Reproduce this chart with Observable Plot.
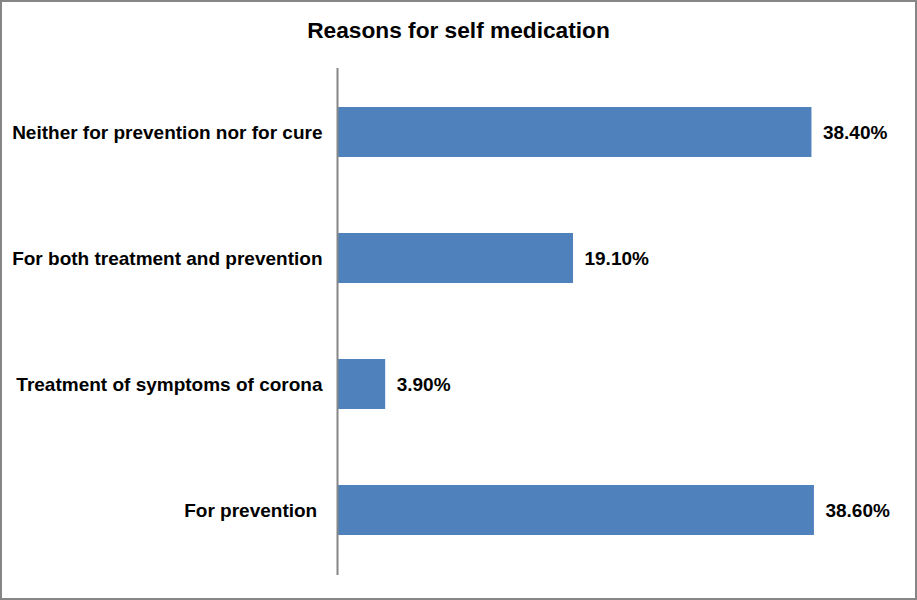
<!DOCTYPE html>
<html>
<head>
<meta charset="utf-8">
<script src="https://cdn.jsdelivr.net/npm/d3@7"></script>
<script src="https://cdn.jsdelivr.net/npm/@observablehq/plot@0.6"></script>
<style>
  html, body { margin: 0; padding: 0; background: #fff; }
  #frame {
    position: relative;
    width: 917px; height: 600px;
    box-sizing: border-box;
    border: 2px solid #868686;
    background: #fff;
    font-family: "Liberation Sans", Arial, sans-serif;
  }
  #title {
    position: absolute; left: 0; right: 0; top: 15px;
    text-align: center;
    font-size: 22.7px; font-weight: bold; color: #000;
    line-height: 26px;
  }
  #chart { position: absolute; left: 0; top: 0; }
</style>
</head>
<body>
<div id="frame">
  <div id="title">Reasons for self medication</div>
  <div id="chart"></div>
</div>
<script>
const categories = [
  "Neither for prevention nor for cure",
  "For both treatment and prevention",
  "Treatment of symptoms of corona",
  "For prevention\u00a0"
];
const values = [38.4, 19.1, 3.9, 38.6];

const data = categories.map((c, i) => ({category: c, value: values[i]}));
const fmt = v => d3.format(".2f")(v) + "%";

const chart = Plot.plot({
  width: 913,
  height: 596,
  marginTop: 66,
  marginBottom: 23,
  marginLeft: 335,
  marginRight: 22,
  style: {fontFamily: "'Liberation Sans', Arial, sans-serif", fontSize: "19px", fontWeight: "bold", color: "#000", background: "transparent"},
  x: {domain: [0, 45], axis: null},
  y: {domain: categories, paddingInner: 0.6, paddingOuter: 0.3, label: null},
  marks: [
    Plot.barX(data, {x: "value", y: "category", fill: "#4F81BD", insetLeft: 1}),
    Plot.ruleX([0], {stroke: "#868686", strokeWidth: 2}),
    Plot.text(data, {x: "value", y: "category", text: d => fmt(d.value), textAnchor: "start", dx: 11, fontSize: 19, fontWeight: "bold", fill: "#000"}),
    Plot.axisY({tickSize: 0, tickPadding: 15, fontSize: 19, fontWeight: "bold", label: null})
  ]
});
document.getElementById("chart").appendChild(chart);
</script>
</body>
</html>
